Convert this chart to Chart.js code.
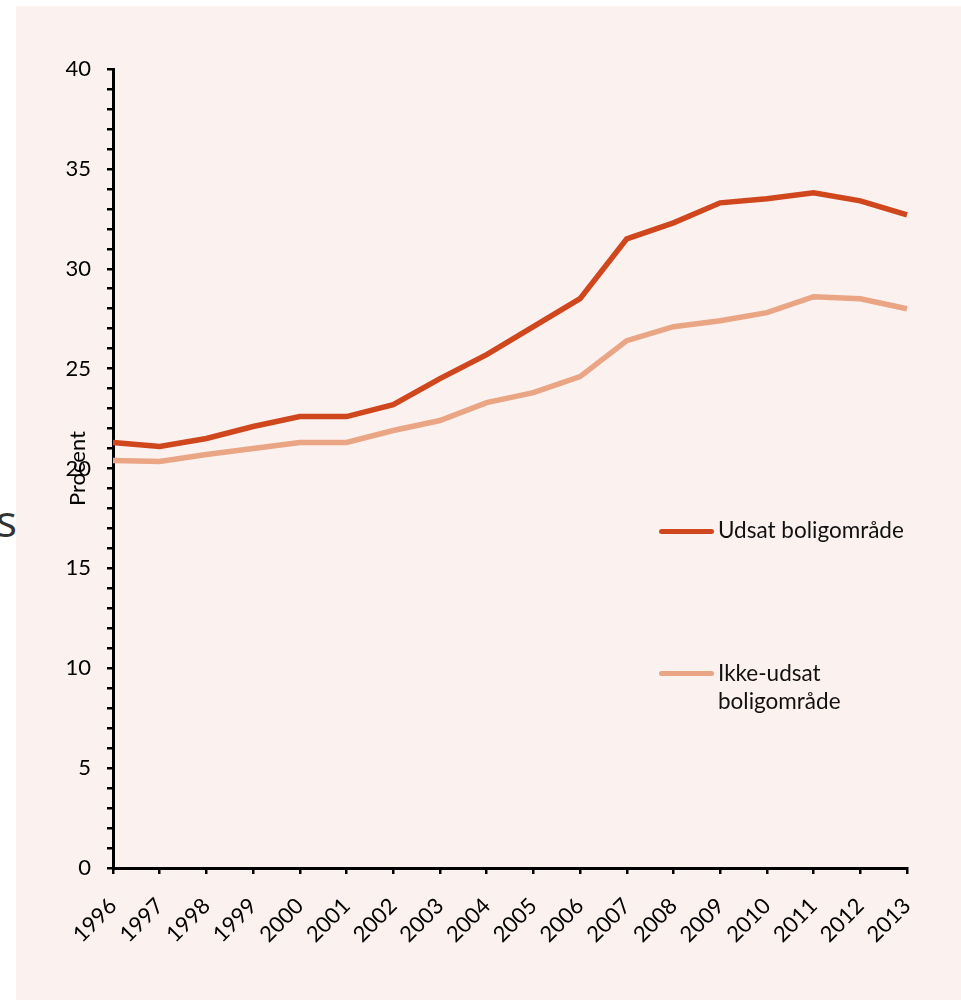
<!DOCTYPE html>
<html>
<head>
<meta charset="utf-8">
<script src="https://cdn.jsdelivr.net/npm/chart.js@4"></script>
<style>
  html, body { margin: 0; padding: 0; background: #ffffff; width: 961px; height: 1000px; overflow: hidden; }
  #panel { position: absolute; left: 16px; top: 6px; width: 945px; height: 994px; background: #FBF1EF; }
  #c { position: absolute; left: 0; top: 0; }
  .leg { position: absolute; font-family: Lato, "Open Sans", sans-serif; font-size: 22.5px; line-height: 28px; color: #111; }
  .sw { position: absolute; height: 5px; border-radius: 3px; }
  #s { position: absolute; left: -4px; top: 497px; font-family: "Open Sans", sans-serif; font-weight: 400; font-size: 44px; line-height: 46px; color: #333; }
</style>
</head>
<body>
<div id="s">s</div>
<div id="panel"><canvas id="c" width="945" height="994"></canvas></div>
<div class="sw" style="left:659px; top:529px; width:55px; background:#D0461D;"></div>
<div class="leg" style="left:718px; top:516px;">Udsat boligområde</div>
<div class="sw" style="left:659px; top:671px; width:55px; background:#EAA584;"></div>
<div class="leg" style="left:718px; top:659px;">Ikke-udsat<br>boligområde</div>
<script>
const years = ['1996','1997','1998','1999','2000','2001','2002','2003','2004','2005','2006','2007','2008','2009','2010','2011','2012','2013'];
const udsat = [21.3, 21.1, 21.5, 22.1, 22.6, 22.6, 23.2, 24.5, 25.7, 27.1, 28.5, 31.5, 32.3, 33.3, 33.5, 33.8, 33.4, 32.7];
const ikkeUdsat = [20.4, 20.35, 20.7, 21.0, 21.3, 21.3, 21.9, 22.4, 23.3, 23.8, 24.6, 26.4, 27.1, 27.4, 27.8, 28.6, 28.5, 28.0];
const seriesNames = ['Udsat boligområde', 'Ikke-udsat boligområde'];
const yTitle = 'Procent';

const fontFam = 'Lato, "Open Sans", sans-serif';
new Chart(document.getElementById('c'), {
  type: 'line',
  data: {
    labels: years,
    datasets: [
      { label: seriesNames[0], data: udsat, borderColor: '#D0461D', backgroundColor: '#D0461D', borderWidth: 5.5, pointRadius: 0, tension: 0, fill: false },
      { label: seriesNames[1], data: ikkeUdsat, borderColor: '#EAA584', backgroundColor: '#EAA584', borderWidth: 5.5, pointRadius: 0, tension: 0, fill: false }
    ]
  },
  options: {
    responsive: false,
    animation: false,
    events: [],
    layout: { padding: { left: 0, right: 54, top: 63, bottom: 0 } },
    plugins: { legend: { display: false }, tooltip: { enabled: false } },
    scales: {
      x: {
        offset: false,
        grid: { display: true, drawOnChartArea: false, color: '#000', lineWidth: 2.5, tickLength: 6 },
        border: { display: true, color: '#000', width: 3 },
        ticks: { color: '#000', font: { family: fontFam, size: 22 }, minRotation: 45, maxRotation: 45, autoSkip: false, padding: 19 },
        afterFit: (s) => { s.height = 132; }
      },
      y: {
        min: 0, max: 40,
        grid: { display: true, drawOnChartArea: false, color: '#000', lineWidth: 2.5, tickLength: 6 },
        border: { display: true, color: '#000', width: 3 },
        ticks: { stepSize: 1, autoSkip: false, color: '#000', font: { family: fontFam, size: 22 }, padding: 16,
                 callback: (v) => (v % 5 === 0 ? String(v) : '') },
        title: { display: true, text: yTitle, color: '#000', font: { family: fontFam, size: 22 }, padding: { top: 49, bottom: 0 } },
        afterFit: (s) => { s.width = 97; }
      }
    }
  }
});
</script>
</body>
</html>
